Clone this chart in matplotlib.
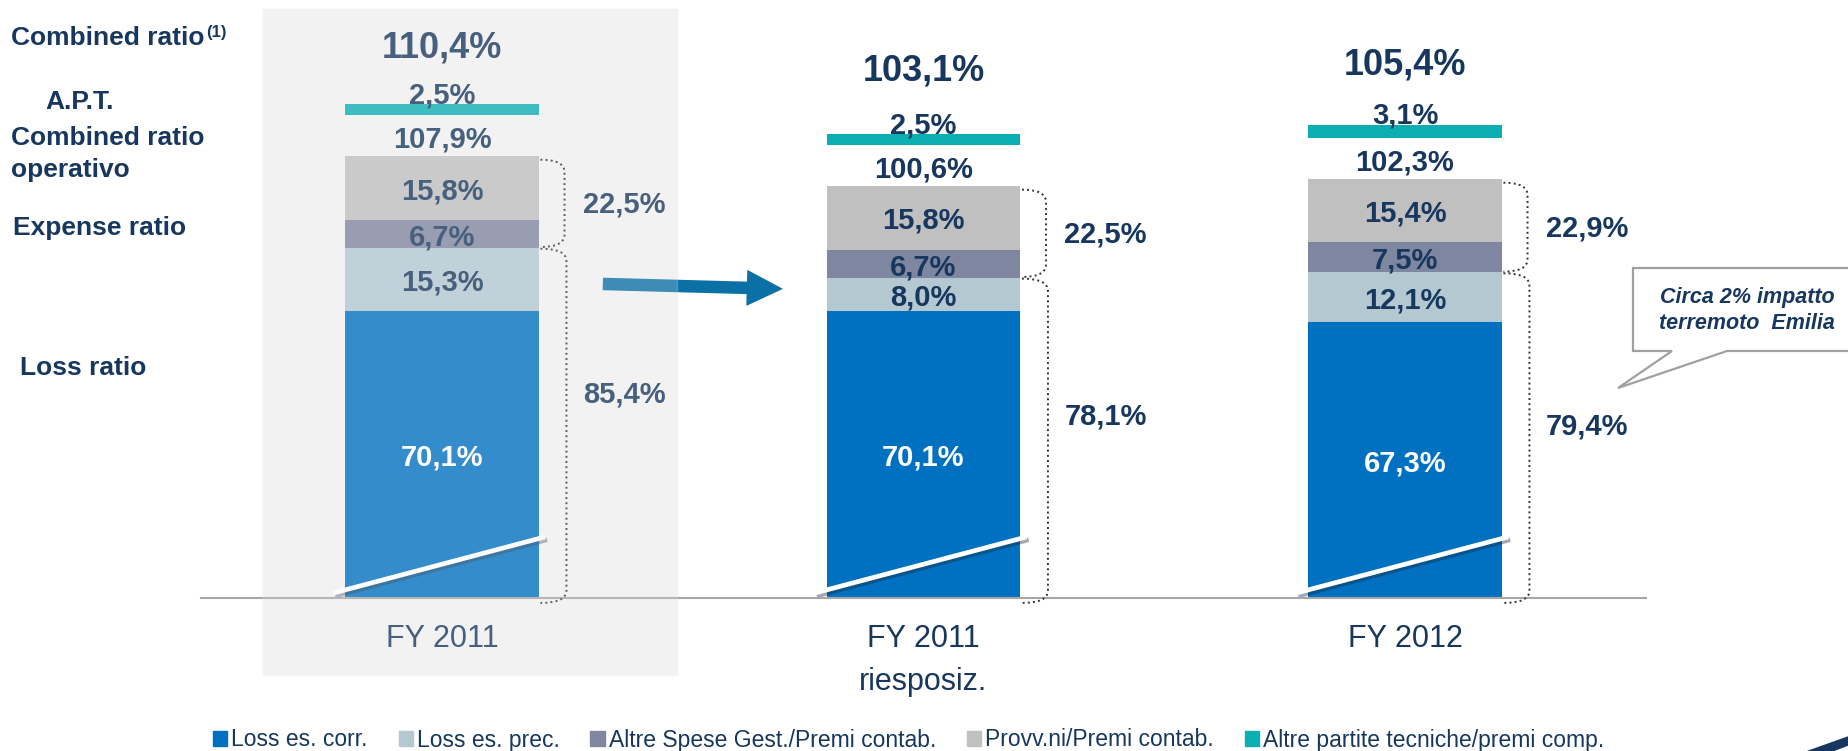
import numpy as np
import matplotlib.pyplot as plt
import matplotlib.patheffects as pe
from matplotlib.patches import Rectangle, Patch, Polygon, PathPatch, FancyArrowPatch
from matplotlib.path import Path

plt.rcParams['font.family'] = ['Liberation Sans', 'DejaVu Sans']

# ---- data (values in % of premiums) ----
categories = ['FY 2011', 'FY 2011\nriesposiz.', 'FY 2012']
loss_corr = np.array([70.1, 70.1, 67.3])
loss_prec = np.array([15.3, 8.0, 12.1])
altre_spese = np.array([6.7, 6.7, 7.5])
provv = np.array([15.8, 15.8, 15.4])
apt = np.array([2.5, 2.5, 3.1])
combined_op = np.array([107.9, 100.6, 102.3])
combined = np.array([110.4, 103.1, 105.4])
expense_ratio = np.array([22.5, 22.5, 22.9])
loss_ratio = np.array([85.4, 78.1, 79.4])

series_names = ['Loss es. corr.', 'Loss es. prec.', 'Altre Spese Gest./Premi contab.',
                'Provv.ni/Premi contab.', 'Altre partite tecniche/premi comp.']
colors = ['#0070C0', '#B4C8D2', '#7F86A0', '#C0C0C0', '#0BAFB3']
NAVY = '#17375E'

W, H = 1848, 751
fig = plt.figure(figsize=(W / 100, H / 100), dpi=100)
ax = fig.add_axes([0, 0, 1, 1])
# bars 481.5 px apart, 4.1 px per point, baseline 598 px from top
x_left = -442 / 481.5
ax.set_xlim(x_left, x_left + W / 481.5)
ax.set_ylim(-(H - 598) / 4.1, 598 / 4.1)
ax.axis('off')


def fx(px):
    return px / W


def fy(py):
    return 1 - py / H


def pct(v):
    return f"{v:.1f}%".replace('.', ',')


# grey panel behind the original FY 2011 column (+ light veil on top)
panel = (fx(263), fy(675)), fx(677) - fx(263), fy(9) - fy(675)
ax.add_patch(Rectangle(*panel, transform=fig.transFigure, color='#F2F2F2', zorder=0))
fig.add_artist(Rectangle(*panel, transform=fig.transFigure, color='#F2F2F2', alpha=0.22, zorder=5))

x = np.arange(len(categories))
bw = 194 / 481.5

# ---- stacked bars ----
bottom = np.zeros(3)
for vals, col, tcol in zip([loss_corr, loss_prec, altre_spese, provv], colors[:4],
                           ['white', NAVY, NAVY, NAVY]):
    ax.bar(x, vals, bw, bottom=bottom, color=col, zorder=2)
    for xi, b, v in zip(x, bottom, vals):
        ax.text(xi, b + v / 2, pct(v), ha='center', va='center_baseline',
                fontsize=21, fontweight='bold', color=tcol, zorder=4)
    bottom += vals

apt_bottom = combined_op + 10
ax.bar(x, apt, bw, bottom=apt_bottom, color=colors[4], zorder=2)

total_shift = [11.4, 13.2, 12.3]
for xi in x:
    ax.text(xi, combined_op[xi] + 2, pct(combined_op[xi]), ha='center', va='baseline',
            fontsize=21, fontweight='bold', color=NAVY)
    ax.text(xi, apt_bottom[xi] + apt[xi] + 0.3, pct(apt[xi]), ha='center', va='baseline',
            fontsize=21, fontweight='bold', color=NAVY, zorder=4)
    ax.text(xi, apt_bottom[xi] + apt[xi] + total_shift[xi], pct(combined[xi]), ha='center',
            va='baseline', fontsize=26, fontweight='bold', color=NAVY)

# axis break marks
for xi in x:
    ax.plot([xi - 0.226, xi + 0.214], [1.2, 14.9], color='white', lw=3.4,
            solid_capstyle='butt', zorder=3,
            path_effects=[pe.SimpleLineShadow(offset=(1.5, -2), shadow_color='#1A2A3A', alpha=0.4),
                          pe.Normal()])

# baseline
ax.plot([-0.5, 2.5], [0, 0], color='#A6A6A6', lw=1.5, zorder=3)


def bracket(xr, y0, y1, w, r):
    verts = [(xr, y1), (xr + w, y1), (xr + w, y1 - r), (xr + w, y0 + r),
             (xr + w, y0), (xr, y0)]
    codes = [Path.MOVETO, Path.CURVE3, Path.CURVE3, Path.LINETO, Path.CURVE3, Path.CURVE3]
    ax.add_patch(PathPatch(Path(verts, codes), fill=False, ls=':', lw=1.4,
                           color='#333333', zorder=3))


loss_label_shift = [7.7, 6.0, 2.8]
for xi in x:
    xr = xi + bw / 2 + 0.003
    bracket(xr, loss_ratio[xi] + 0.2, combined_op[xi] - 1, 0.05, 3)
    bracket(xr, -1.2, loss_ratio[xi] - 0.2, 0.054, 3)
    ax.text(xi + 0.378, loss_ratio[xi] + expense_ratio[xi] / 2, pct(expense_ratio[xi]),
            ha='center', va='center_baseline', fontsize=21, fontweight='bold', color=NAVY)
    ax.text(xi + 0.378, loss_ratio[xi] / 2 + loss_label_shift[xi], pct(loss_ratio[xi]),
            ha='center', va='center_baseline', fontsize=21, fontweight='bold', color=NAVY)

# category labels
for xi, cat in zip(x, categories):
    for i, line in enumerate(cat.split('\n')):
        ax.text(xi, -11.95 - i * 10.4, line, ha='center', va='baseline',
                fontsize=22, color=NAVY)

# restatement arrow
ax.add_patch(FancyArrowPatch((0.334, 76.6), (0.708, 75.4),
                             arrowstyle='simple,head_length=2.6,head_width=2.6,tail_width=0.9',
                             mutation_scale=10, color='#0A70A6', shrinkA=0, shrinkB=0,
                             lw=0, zorder=3))

# ---- left-side row labels ----
lab = dict(fontsize=19, fontweight='bold', color=NAVY, va='center', ha='left')
fig.text(fx(11), fy(38), 'Combined ratio', **lab)
fig.text(fx(206), fy(32), '(1)', fontsize=12, fontweight='bold', color=NAVY, va='center')
fig.text(fx(45), fy(102), 'A.P.T.', **lab)
fig.text(fx(11), fy(138), 'Combined ratio', **lab)
fig.text(fx(11), fy(170), 'operativo', **lab)
fig.text(fx(13), fy(228), 'Expense ratio', **lab)
fig.text(fx(20), fy(368), 'Loss ratio', **lab)

# ---- callout ----
call = [(1633, 268), (1870, 268), (1870, 351), (1727, 351), (1618, 388), (1672, 351), (1633, 351)]
fig.add_artist(Polygon([(fx(a), fy(b)) for a, b in call], closed=True, transform=fig.transFigure,
                       facecolor='white', edgecolor='#A0A0A0', lw=1.6, zorder=6))
fig.text(fx(1747), fy(298), 'Circa 2% impatto', ha='center', va='center', fontsize=15.5,
         fontweight='bold', fontstyle='italic', color=NAVY, zorder=7)
fig.text(fx(1747), fy(323), 'terremoto  Emilia', ha='center', va='center', fontsize=15.5,
         fontweight='bold', fontstyle='italic', color=NAVY, zorder=7)

# corner swoosh of the slide template
fig.add_artist(Polygon([(fx(1806), fy(752)), (fx(1848), fy(737)), (fx(1848), fy(745)),
                        (fx(1830), fy(752))], closed=True, transform=fig.transFigure,
                       color='#17375E', zorder=6))

# ---- legend ----
handles = [Patch(color=c) for c in colors]
fig.legend(handles, series_names, loc='center left', bbox_to_anchor=(fx(213), fy(740)),
           ncol=5, frameon=False, fontsize=16.5, labelcolor=NAVY,
           handlelength=0.62, handleheight=0.62, handletextpad=0.17, columnspacing=1.35,
           borderpad=0, borderaxespad=0)

fig.savefig('out.png', dpi=100)
